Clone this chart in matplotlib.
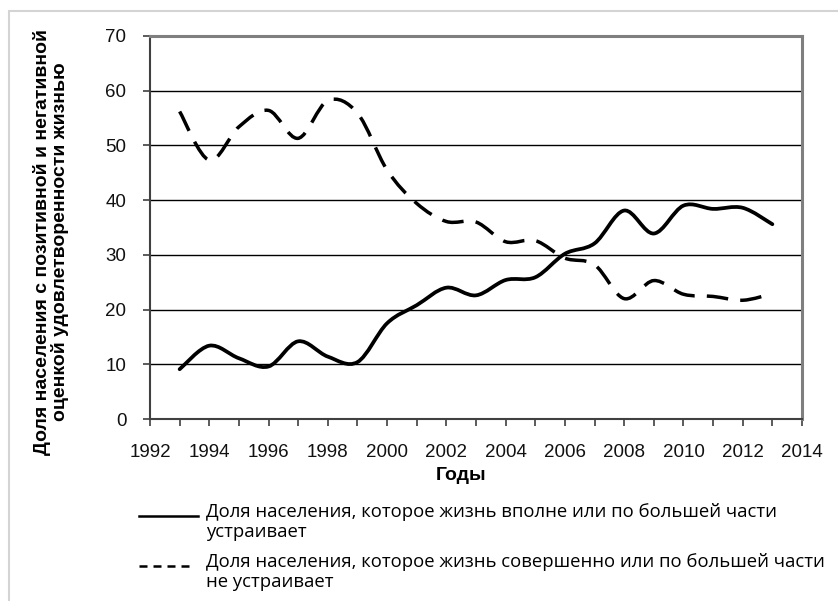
import matplotlib
matplotlib.use('Agg')
import matplotlib.pyplot as plt
from matplotlib.path import Path
from matplotlib.patches import PathPatch, Rectangle
from matplotlib.lines import Line2D

# data
years = list(range(1993, 2014))
satisfied = [9.1, 13.4, 11.1, 9.6, 14.2, 11.4, 10.4, 17.5, 20.8, 24.0, 22.6,
             25.4, 25.9, 30.2, 32.1, 38.1, 33.9, 39.0, 38.4, 38.6, 35.6]
unsatisfied = [56.2, 47.3, 53.4, 56.4, 51.3, 58.2, 55.9, 45.5, 39.4, 36.1, 36.0,
               32.4, 32.6, 29.4, 28.2, 22.0, 25.3, 22.8, 22.4, 21.7, 22.9]
x_ticks = list(range(1992, 2015, 2))
y_ticks = list(range(0, 71, 10))

ylabel = "Доля населения с позитивной и негативной\nоценкой удовлетворенности жизнью"
xlabel = "Годы"
legend_labels = ["Доля населения, которое жизнь вполне или по большей части\nустраивает",
                 "Доля населения, которое жизнь совершенно или по большей части\nне устраивает"]


def smooth_path(xs, ys):
    # excel-like smoothed line as cubic bezier segments
    pts = list(zip(xs, ys))
    n = len(pts)
    verts = [pts[0]]
    codes = [Path.MOVETO]
    for i in range(n - 1):
        p0 = pts[i - 1] if i > 0 else pts[i]
        p1 = pts[i]
        p2 = pts[i + 1]
        p3 = pts[i + 2] if i + 2 < n else pts[i + 1]
        c1 = (p1[0] + (p2[0] - p0[0]) / 6, p1[1] + (p2[1] - p0[1]) / 6)
        c2 = (p2[0] - (p3[0] - p1[0]) / 6, p2[1] - (p3[1] - p1[1]) / 6)
        verts += [c1, c2, p2]
        codes += [Path.CURVE4] * 3
    return Path(verts, codes)


plt.rcParams['font.family'] = ['Liberation Sans', 'DejaVu Sans']

fig = plt.figure(figsize=(8.38, 6.01), dpi=100)
ax = fig.add_axes([150 / 838, 1 - 419 / 601, 652 / 838, 383 / 601])

ax.add_patch(PathPatch(smooth_path(years, satisfied), fill=False,
                       edgecolor='black', lw=2.7, capstyle='round', joinstyle='round'))
dash = PathPatch(smooth_path(years, unsatisfied), fill=False,
                 edgecolor='black', lw=2.5, capstyle='butt')
dash.set_linestyle((0, (6.2, 3.5)))
ax.add_patch(dash)

ax.set_xlim(1992, 2014)
ax.set_ylim(0, 70)
ax.set_xticks(x_ticks)
ax.set_yticks(y_ticks)
ax.set_xticks(range(1992, 2015), minor=True)
ax.yaxis.grid(True, color='black', lw=1.0)
ax.set_axisbelow(True)

ax.spines['top'].set_color('#7f7f7f')
ax.spines['right'].set_color('#7f7f7f')
ax.spines['top'].set_linewidth(2.2)
ax.spines['right'].set_linewidth(2.2)
ax.spines['left'].set_color('#404040')
ax.spines['bottom'].set_color('#404040')
ax.spines['left'].set_linewidth(1.5)
ax.spines['bottom'].set_linewidth(1.5)

ax.tick_params(axis='both', which='both', direction='out', length=5, width=1.2,
               color='#404040', labelsize=13.5, labelcolor='#111111')
ax.tick_params(axis='x', which='major', pad=13)
ax.tick_params(axis='y', pad=12)

fig.text(461 / 838, 1 - 476 / 601, xlabel, fontsize=14, fontweight='bold',
         ha='center', va='center')
fig.text(51 / 838, 1 - 242 / 601, ylabel, fontsize=14, fontweight='bold',
         rotation=90, ha='center', va='center', multialignment='center',
         linespacing=1.0)

# outer chart border
fig.patches.append(Rectangle((9 / 838, -0.05), 1.0, 1 - 11 / 601 + 0.05,
                             transform=fig.transFigure, fill=False,
                             edgecolor='#d4d4d4', lw=1.5))

# legend below the plot
fig.add_artist(Line2D([139 / 838, 198 / 838], [1 - 516 / 601] * 2,
                      color='black', lw=1.8, transform=fig.transFigure))
fig.add_artist(Line2D([139 / 838, 193 / 838], [1 - 566 / 601] * 2,
                      color='black', lw=1.8, linestyle=(0, (3.2, 2.4)),
                      transform=fig.transFigure))
for lab, ytop in zip(legend_labels, [503, 553]):
    fig.text(206 / 838, 1 - ytop / 601, lab, fontsize=13.3, family='Open Sans',
             ha='left', va='top', linespacing=1.12)

plt.savefig('out.png', dpi=100)
